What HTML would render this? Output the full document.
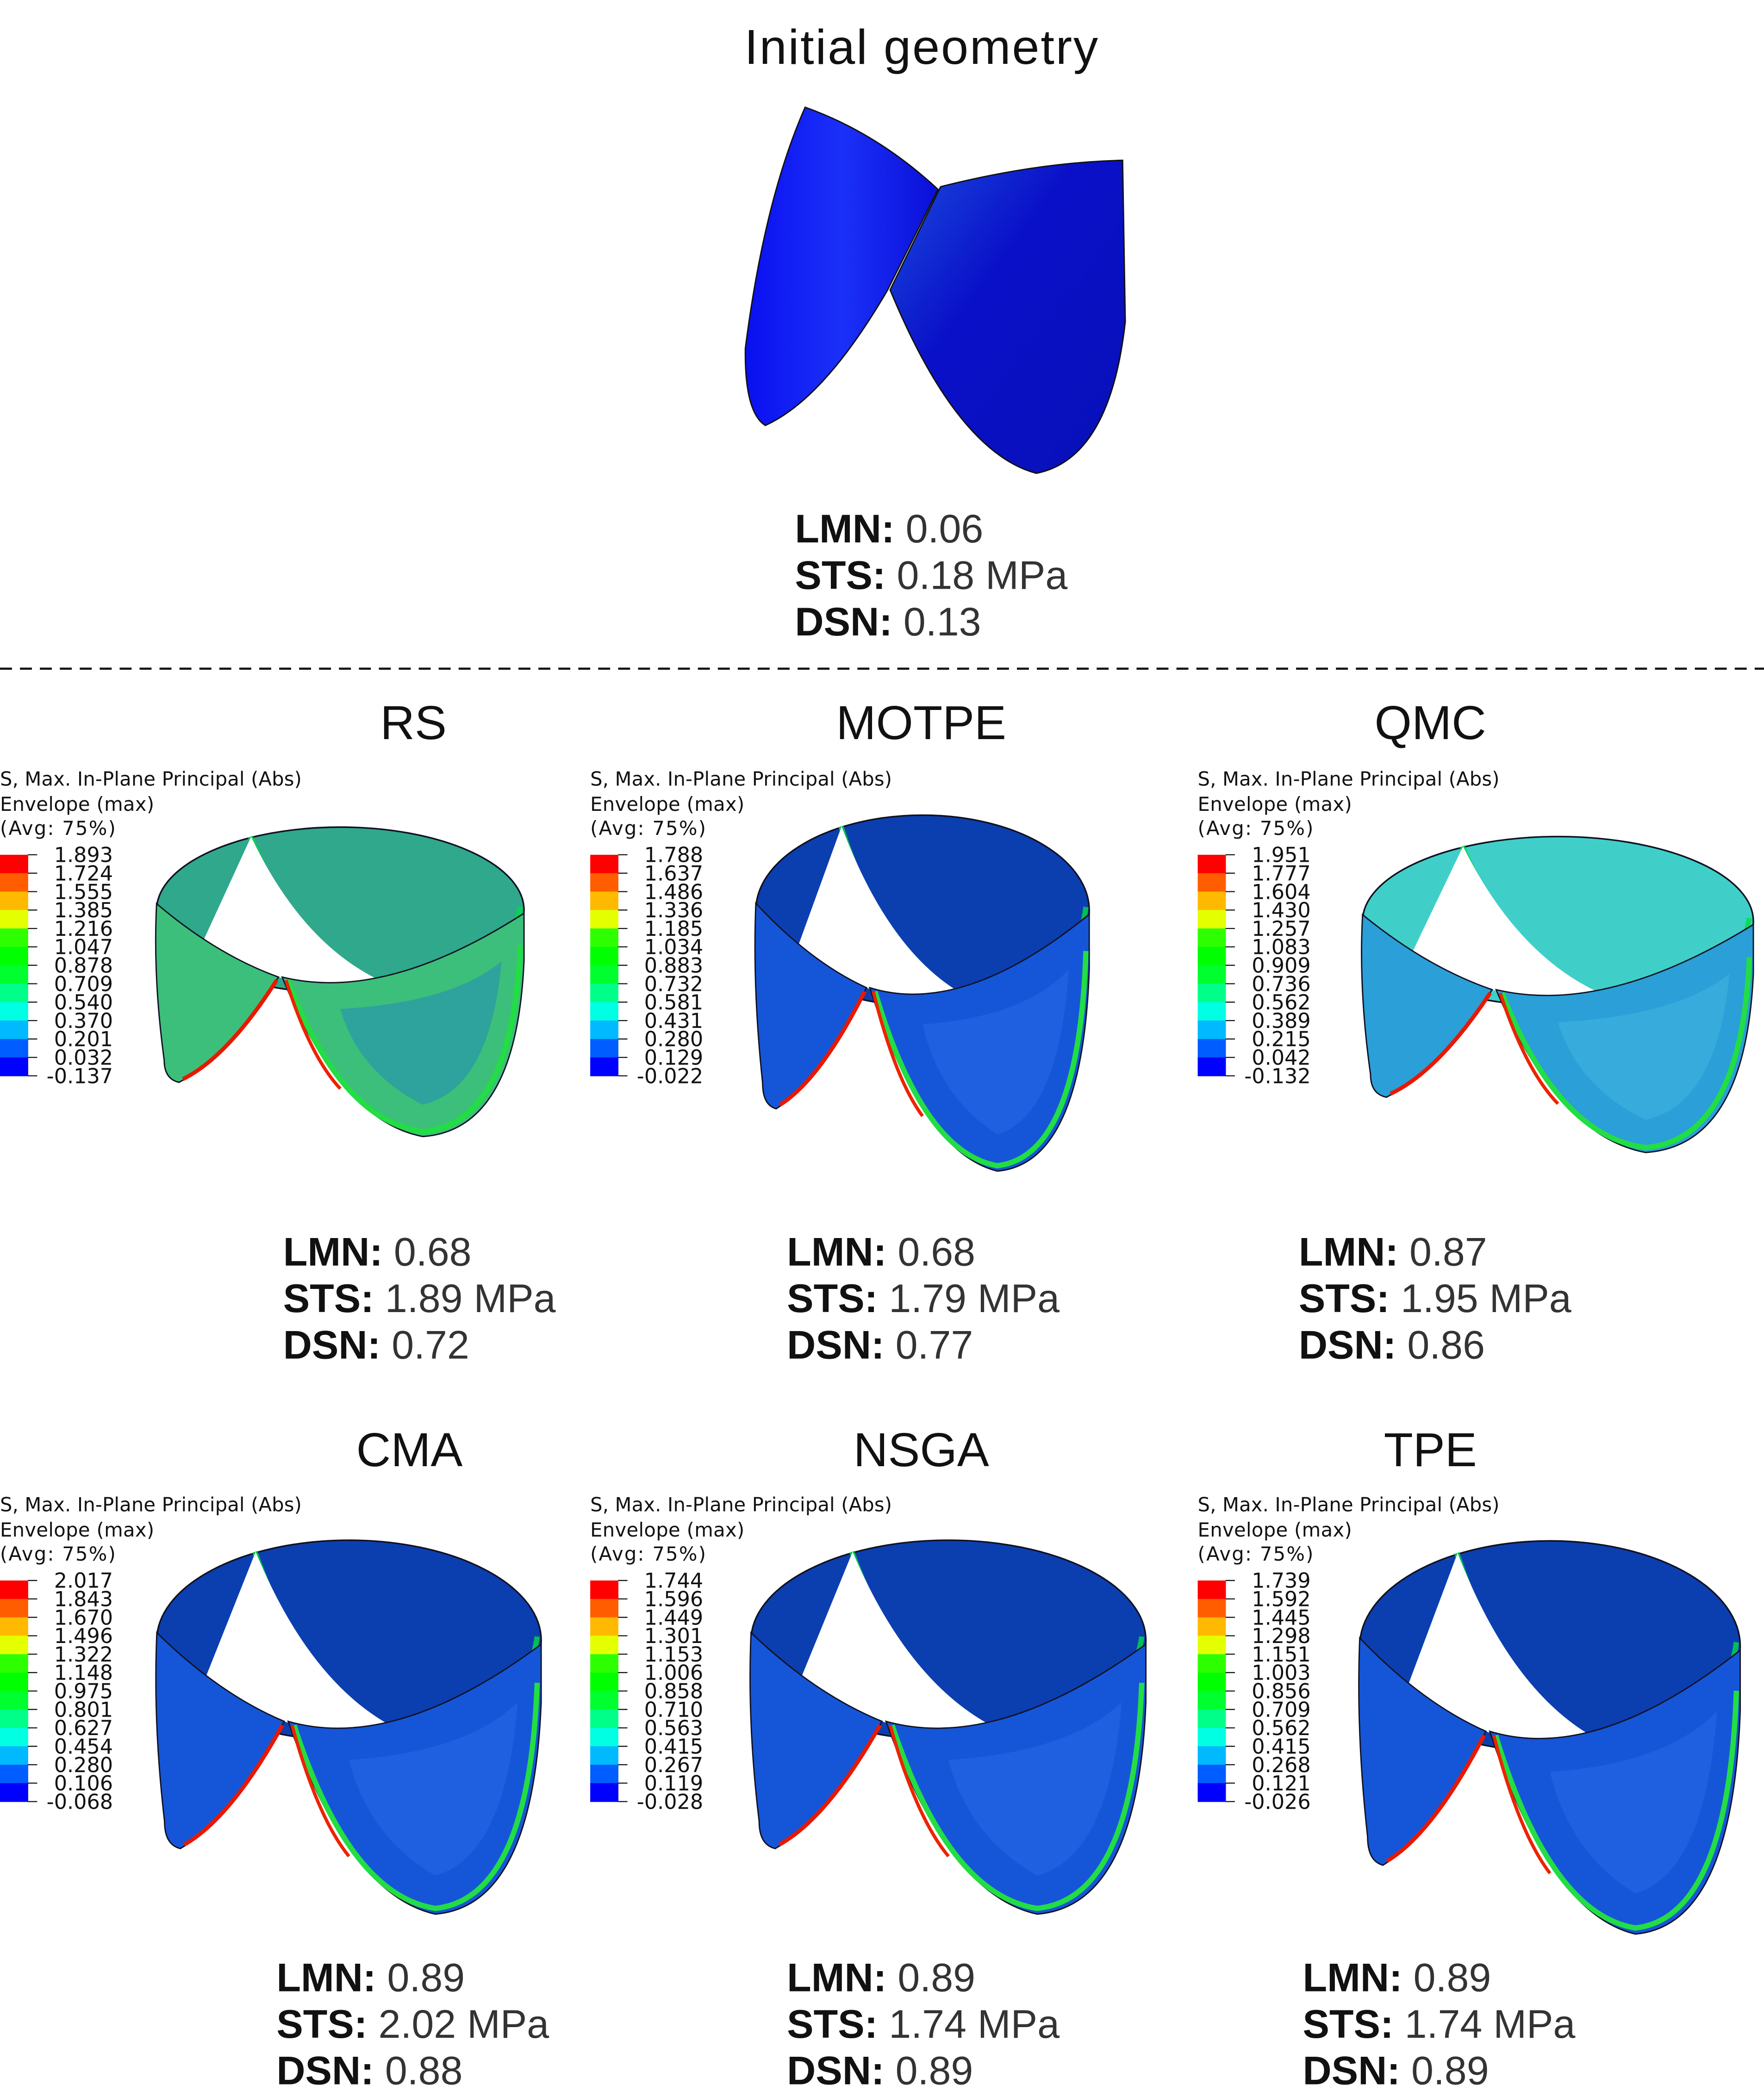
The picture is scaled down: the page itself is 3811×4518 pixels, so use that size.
<!DOCTYPE html>
<html><head><meta charset="utf-8">
<style>
html,body{margin:0;padding:0;background:#fff;}
svg{display:block;}
.t{font-family:"Liberation Sans","DejaVu Sans",sans-serif;fill:#111;}
.lg{font-family:"DejaVu Sans","Liberation Sans",sans-serif;fill:#111;}
</style></head>
<body>
<svg id="fig" width="3811" height="4518" viewBox="0 0 1327 1573" xmlns="http://www.w3.org/2000/svg">
<defs>
<linearGradient id="gInit" x1="0" y1="0" x2="1" y2="0"><stop offset="0" stop-color="#0a10f0"/><stop offset="0.5" stop-color="#1a30f8"/><stop offset="1" stop-color="#0b0fd8"/></linearGradient>
<linearGradient id="gInit2" x1="0" y1="0" x2="1" y2="1"><stop offset="0" stop-color="#1b4ee0"/><stop offset="0.4" stop-color="#0a10c8"/><stop offset="1" stop-color="#0810b8"/></linearGradient>
</defs>
<text class="t" x="693" y="48" font-size="37" text-anchor="middle" textLength="266">Initial geometry</text>
<g>
<path d="M605.7,80.6 Q660,100 705.6,142.4 L667.6,218.3 Q620,300 575.7,320 Q560,310 560.7,262 Q575,150 605.7,80.6 Z" fill="url(#gInit)" stroke="#111" stroke-width="1"/>
<path d="M707.6,140.4 Q780,122 844.5,120.5 L846.5,242 Q835,345 779.6,356 Q720,340 669.6,218 Z" fill="url(#gInit2)" stroke="#111" stroke-width="1"/>
</g>
<g id="initStats"></g>
<line x1="0" y1="503" x2="1327" y2="503" stroke="#111" stroke-width="1.6" stroke-dasharray="9,6"/>
<g id="panels"></g>
</svg>
<script>
const methods = ["RS","MOTPE","QMC","CMA","NSGA","TPE"];
const lmn = [0.68,0.68,0.87,0.89,0.89,0.89];
const sts = [1.89,1.79,1.95,2.02,1.74,1.74];
const dsn = [0.72,0.77,0.86,0.88,0.89,0.89];
const legendRS = ["1.893","1.724","1.555","1.385","1.216","1.047","0.878","0.709","0.540","0.370","0.201","0.032","-0.137"];
const legendMOTPE = ["1.788","1.637","1.486","1.336","1.185","1.034","0.883","0.732","0.581","0.431","0.280","0.129","-0.022"];
const legendQMC = ["1.951","1.777","1.604","1.430","1.257","1.083","0.909","0.736","0.562","0.389","0.215","0.042","-0.132"];
const legendCMA = ["2.017","1.843","1.670","1.496","1.322","1.148","0.975","0.801","0.627","0.454","0.280","0.106","-0.068"];
const legendNSGA = ["1.744","1.596","1.449","1.301","1.153","1.006","0.858","0.710","0.563","0.415","0.267","0.119","-0.028"];
const legendTPE = ["1.739","1.592","1.445","1.298","1.151","1.003","0.856","0.709","0.562","0.415","0.268","0.121","-0.026"];
const legends = [legendRS,legendMOTPE,legendQMC,legendCMA,legendNSGA,legendTPE];
const initial = {lmn:"0.06", sts:"0.18", dsn:"0.13"};
const bandColors = ["#ff0000","#ff5d00","#ffb900","#e3ff00","#2eff00","#00ff00","#00ff2e","#00ff88","#00ffe3","#00b9ff","#005dff","#0000ff"];

const NS="http://www.w3.org/2000/svg";
function mk(tag, attrs, parent){const e=document.createElementNS(NS,tag);for(const k in attrs)e.setAttribute(k,attrs[k]);parent.appendChild(e);return e;}
function statBlock(parent,x,y,l,s,d){
  const rows=[["LMN:"," "+l],["STS:","  "+s+" MPa"],["DSN:"," "+d]];
  rows.forEach((r,i)=>{
    const t=mk("text",{class:"t",x:x,y:y+i*35,"font-size":30,"xml:space":"preserve"},parent);
    
    
    const a=mk("tspan",{"font-weight":"bold"},t);a.textContent=r[0];
    const b=mk("tspan",{"font-weight":"normal",fill:"#333"},t);b.textContent=r[1];
  });
}
statBlock(document.getElementById("initStats"),598,408,initial.lmn,initial.sts,initial.dsn);

const panelLayout=[
 {tx:311,ty:556,lx:0,ly:591,box:[115,615,282,240],sx:213,sy:952,pal:"rs"},
 {tx:693,ty:556,lx:444,ly:591,box:[566,605,256,276],sx:592,sy:952,pal:"blue"},
 {tx:1076,ty:556,lx:901,ly:591,box:[1022,622,300,245],sx:977,sy:952,pal:"qmc"},
 {tx:308,ty:1103,lx:0,ly:1137,box:[115,1150,295,290],sx:208,sy:1498,pal:"blue"},
 {tx:693,ty:1103,lx:444,ly:1137,box:[562,1150,303,290],sx:592,sy:1498,pal:"blue"},
 {tx:1076,ty:1103,lx:901,ly:1137,box:[1020,1150,292,305],sx:980,sy:1498,pal:"blue"}
];
const pals={
 blue:{back:"#0b3fb0",front:"#1556d8",mid:"#2a6ae8"},
 rs:{back:"#2fa88c",front:"#3cbf7a",mid:"#1f86c0"},
 qmc:{back:"#3fcfc8",front:"#2a9fd8",mid:"#44b8e0"}
};
const panels=document.getElementById("panels");
methods.forEach((m,i)=>{
  const L=panelLayout[i];
  const g=mk("g",{},panels);
  
  
  const tt=mk("text",{class:"t",x:L.tx,y:L.ty,"font-size":36,"text-anchor":"middle"},g);
  
  
  tt.textContent=m;
  const lg=mk("g",{},g);
  
  
  const hdr=["S, Max. In-Plane Principal (Abs)","Envelope (max)","(Avg: 75%)"];
  const hy=[0,19,37];
  hdr.forEach((h,k)=>{const t=mk("text",{class:"lg",x:L.lx,y:L.ly+hy[k],"font-size":14.5},lg);
    if(k===0)t.setAttribute("textLength","227");
    if(k===1)t.setAttribute("textLength","116");
    if(k===2)t.setAttribute("textLength","87");
    
    
    t.textContent=h;});
  const top=L.ly+52, bh=13.86, vals=legends[i];
  bandColors.forEach((c,k)=>{
    const r=mk("rect",{x:L.lx,y:top+k*bh,width:21.2,height:bh+0.3,fill:c},lg);
    
    
  });
  vals.forEach((v,k)=>{
    const ln=mk("line",{x1:L.lx+21,x2:L.lx+28,y1:top+k*bh,y2:top+k*bh,stroke:"#111","stroke-width":0.8},lg);
    
    
    const t=mk("text",{class:"lg",x:L.lx+85,y:top+k*bh+5.5,"font-size":15.5,"text-anchor":"end"},lg);
    
    
    t.textContent=v;
  });
  const [x0,y0,w,h]=L.box, P=pals[L.pal];
  const X=u=>(x0+u*w).toFixed(1), Y=v=>(y0+v*h).toFixed(1);
  const pt=(u,v)=>X(u)+","+Y(v);
  const vg=mk("g",{},g);
  
  
  const back=mk("ellipse",{cx:X(0.5),cy:Y(0.29),rx:(0.49*w).toFixed(1),ry:(0.26*h).toFixed(1),fill:P.back,stroke:"#112","stroke-width":1.2},vg);
  
  const belly=mk("path",{d:`M${pt(0.26,0.06)} Q${pt(0.42,0.52)} ${pt(0.7,0.54)} Q${pt(0.95,0.5)} ${pt(0.98,0.28)}`,fill:"none",stroke:"#00dd44","stroke-width":4,opacity:0.8},vg);
  
  const gap=mk("path",{d:`M${pt(0.262,0.06)} L${pt(0.125,0.41)} Q${pt(0.23,0.47)} ${pt(0.335,0.5)} Q${pt(0.5,0.56)} ${pt(0.68,0.545)} Q${pt(0.42,0.45)} ${pt(0.262,0.06)} Z`,fill:"#fff"},vg);
  
  const lf=mk("path",{d:`M${pt(0.01,0.27)} Q${pt(0.17,0.43)} ${pt(0.335,0.5)} Q${pt(0.2,0.75)} ${pt(0.07,0.83)} Q${pt(0.03,0.82)} ${pt(0.03,0.76)} Q${pt(0.0,0.5)} ${pt(0.01,0.27)} Z`,fill:P.front,stroke:"#112","stroke-width":1},vg);
  
  const lfe=mk("path",{d:`M${pt(0.33,0.51)} Q${pt(0.2,0.75)} ${pt(0.08,0.82)}`,fill:"none",stroke:"#e81800","stroke-width":3},vg);
  
  const rf=mk("path",{d:`M${pt(0.345,0.5)} Q${pt(0.62,0.58)} ${pt(0.99,0.3)} L${pt(0.99,0.45)} Q${pt(0.97,0.98)} ${pt(0.72,1.0)} Q${pt(0.5,0.95)} ${pt(0.345,0.5)} Z`,fill:P.front,stroke:"#112","stroke-width":1},vg);
  
  const rfm=mk("path",{d:`M${pt(0.5,0.6)} Q${pt(0.8,0.58)} ${pt(0.93,0.45)} Q${pt(0.9,0.85)} ${pt(0.72,0.9)} Q${pt(0.55,0.8)} ${pt(0.5,0.6)} Z`,fill:P.mid,opacity:0.5},vg);
  
  const rfe=mk("path",{d:`M${pt(0.36,0.51)} Q${pt(0.5,0.95)} ${pt(0.72,0.985)} Q${pt(0.96,0.96)} ${pt(0.98,0.4)}`,fill:"none",stroke:"#22dd44","stroke-width":4},vg);
  
  const rfr=mk("path",{d:`M${pt(0.355,0.51)} Q${pt(0.42,0.75)} ${pt(0.5,0.85)}`,fill:"none",stroke:"#ee2200","stroke-width":2.5},vg);
  
  const sg=mk("g",{},g);
  
  
  statBlock(sg,L.sx,L.sy,lmn[i].toFixed(2),sts[i].toFixed(2),dsn[i].toFixed(2));
});
</script>
</body></html>
